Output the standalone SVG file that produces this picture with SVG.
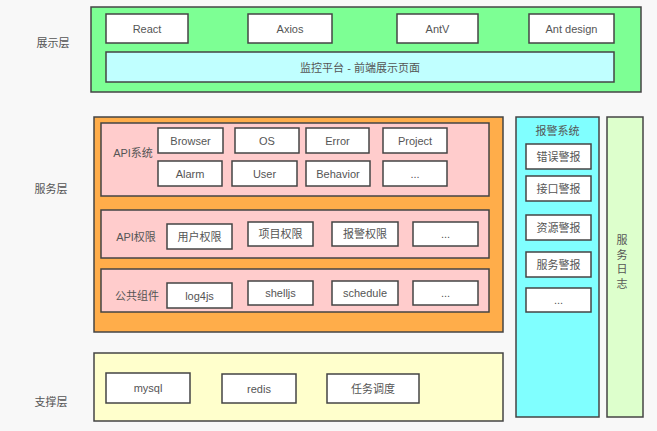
<svg xmlns="http://www.w3.org/2000/svg" width="657" height="431" viewBox="0 0 657 431">
<style>
text{font-family:"Liberation Sans","Noto Sans CJK SC",sans-serif;font-size:11px;fill:#555;text-anchor:middle;dominant-baseline:central}
.b{stroke:#444;stroke-width:1.5}
.w{fill:#fff;stroke:#444;stroke-width:1.5}
</style>
<rect width="657" height="431" fill="#f8f8f8"/>
<g id="labels">
<text x="53" y="43">展示层</text>
<text x="51" y="189">服务层</text>
<text x="51" y="402">支撑层</text>
</g>
<g id="presentation">
<rect class="b" x="91" y="7" width="550" height="85" fill="#7dff94"/>
<g id="react"><rect class="w" x="106" y="14" width="82" height="29"/><text x="147" y="29">React</text></g>
<g id="axios"><rect class="w" x="248" y="14" width="84" height="29"/><text x="290" y="29">Axios</text></g>
<g id="antv"><rect class="w" x="397" y="14" width="81" height="29"/><text x="437.5" y="29">AntV</text></g>
<g id="antdesign"><rect class="w" x="529" y="14" width="85" height="29"/><text x="571.5" y="29">Ant design</text></g>
<g id="platform"><rect class="b" x="106" y="52" width="508" height="30" fill="#c0ffff"/><text x="360" y="68">监控平台 - 前端展示页面</text></g>
</g>
<g id="service">
<rect class="b" x="94" y="117" width="409" height="215" fill="#ffad4a"/>
<g id="apisystem">
<rect class="b" x="101" y="123" width="388" height="73" fill="#ffcccc"/>
<text x="133" y="153">API系统</text>
<g id="browser"><rect class="w" x="158" y="128" width="65" height="25"/><text x="190.5" y="141">Browser</text></g>
<g id="os"><rect class="w" x="235" y="128" width="64" height="25"/><text x="267" y="141">OS</text></g>
<g id="error"><rect class="w" x="306" y="128" width="63" height="25"/><text x="337.5" y="141">Error</text></g>
<g id="project"><rect class="w" x="383" y="128" width="64" height="25"/><text x="415" y="141">Project</text></g>
<g id="alarm"><rect class="w" x="158" y="161" width="64" height="25"/><text x="190" y="174">Alarm</text></g>
<g id="user"><rect class="w" x="232" y="161" width="65" height="25"/><text x="264.5" y="174">User</text></g>
<g id="behavior"><rect class="w" x="306" y="161" width="64" height="25"/><text x="338" y="174">Behavior</text></g>
<g id="api-more"><rect class="w" x="383" y="161" width="64" height="25"/><text x="415" y="174">...</text></g>
</g>
<g id="apiauth">
<rect class="b" x="101" y="210" width="388" height="48" fill="#ffcccc"/>
<text x="136" y="237">API权限</text>
<g id="userauth"><rect class="w" x="167" y="224" width="65" height="25"/><text x="199.5" y="237">用户权限</text></g>
<g id="projauth"><rect class="w" x="248" y="222" width="65" height="24"/><text x="280.5" y="234">项目权限</text></g>
<g id="alarmauth"><rect class="w" x="332" y="222" width="66" height="24"/><text x="365" y="234">报警权限</text></g>
<g id="auth-more"><rect class="w" x="413" y="222" width="65" height="24"/><text x="445.5" y="234">...</text></g>
</g>
<g id="common">
<rect class="b" x="101" y="269" width="388" height="43" fill="#ffcccc"/>
<text x="137" y="296">公共组件</text>
<g id="log4js"><rect class="w" x="167" y="283" width="65" height="25"/><text x="199.5" y="296">log4js</text></g>
<g id="shelljs"><rect class="w" x="248" y="281" width="65" height="24"/><text x="280.5" y="293">shelljs</text></g>
<g id="schedule"><rect class="w" x="332" y="281" width="66" height="24"/><text x="365" y="293">schedule</text></g>
<g id="common-more"><rect class="w" x="413" y="281" width="65" height="24"/><text x="445.5" y="293">...</text></g>
</g>
</g>
<g id="alarmsystem">
<rect class="b" x="516" y="117" width="83" height="300" fill="#80ffff"/>
<text x="557.5" y="131">报警系统</text>
<g id="err-alarm"><rect class="w" x="526" y="144" width="65" height="25"/><text x="558.5" y="157">错误警报</text></g>
<g id="api-alarm"><rect class="w" x="526" y="176" width="65" height="25"/><text x="558.5" y="189">接口警报</text></g>
<g id="res-alarm"><rect class="w" x="526" y="215" width="65" height="25"/><text x="558.5" y="228">资源警报</text></g>
<g id="svc-alarm"><rect class="w" x="526" y="252" width="65" height="25"/><text x="558.5" y="265">服务警报</text></g>
<g id="alarm-more"><rect class="w" x="526" y="288" width="65" height="24"/><text x="558.5" y="300">...</text></g>
</g>
<g id="servicelog">
<rect class="b" x="607" y="117" width="36" height="300" fill="#ddffcc"/>
<text x="622" y="240">服</text>
<text x="622" y="254.5">务</text>
<text x="622" y="269">日</text>
<text x="622" y="283.5">志</text>
</g>
<g id="support">
<rect class="b" x="94" y="353" width="409" height="68" fill="#ffffcc"/>
<g id="mysql"><rect class="w" x="106" y="373" width="84" height="30"/><text x="148" y="388">mysql</text></g>
<g id="redis"><rect class="w" x="222" y="374" width="74" height="29"/><text x="259" y="388.5">redis</text></g>
<g id="task"><rect class="w" x="327" y="374" width="92" height="29"/><text x="373" y="388.5">任务调度</text></g>
</g>
<g id="connectors"></g>
</svg>
